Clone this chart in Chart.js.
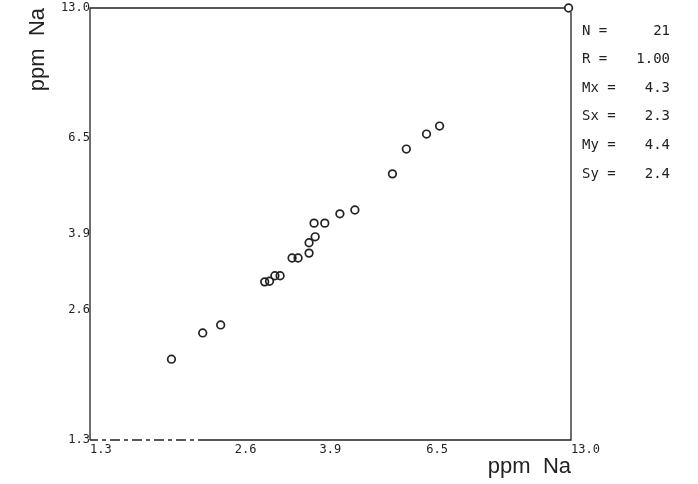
<!DOCTYPE html>
<html>
<head>
<meta charset="utf-8">
<script src="https://cdn.jsdelivr.net/npm/chart.js@4"></script>
<style>
  body { margin: 0; background: #fff; }
  #wrap { width: 698px; height: 484px; }
</style>
</head>
<body>
<div id="wrap"><canvas id="naChart"></canvas></div>
<script>
// Na values (x = one method, y = the other), ppm
const naX = [1.92, 2.23, 2.43, 3.00, 3.07, 3.15, 3.23, 3.42, 3.52, 3.71, 3.71,
             3.82, 3.80, 4.00, 4.30, 4.62, 5.53, 5.91, 6.51, 6.93, 12.85];
const naY = [2.00, 2.30, 2.40, 3.02, 3.03, 3.12, 3.12, 3.43, 3.43, 3.52, 3.72,
             3.84, 4.13, 4.13, 4.34, 4.43, 5.37, 6.13, 6.64, 6.93, 13.0];

// tick positions and their printed labels (same for both axes)
const tickValues = [1.3, 2.6, 3.9, 6.5, 13.0];
const tickLabels = ['1.3', '2.6', '3.9', '6.5', '13.0'];

// summary box on the right
const statLabels = ['N =', 'R =', 'Mx =', 'Sx =', 'My =', 'Sy ='];
const statValues = ['21', '1.00', '4.3', '2.3', '4.4', '2.4'];

const ink = '#222';
const tickFont = { family: 'DejaVu Sans Mono', size: 12 };

// draws the box round the plot (bottom edge partly dashed like the plot)
const framePlugin = {
    id: 'frame',
    beforeDatasetsDraw(chart) {
        const { ctx, chartArea: a } = chart;
        ctx.save();
        ctx.strokeStyle = ink;
        ctx.lineWidth = 1.3;
        ctx.beginPath();
        ctx.moveTo(a.left, a.bottom);
        ctx.lineTo(a.left, a.top);
        ctx.lineTo(a.right - 6, a.top);
        ctx.moveTo(a.right, a.top + 4);
        ctx.lineTo(a.right, a.bottom);
        ctx.lineTo(208, a.bottom);
        ctx.stroke();
        ctx.setLineDash([10, 4, 4, 4]);
        ctx.beginPath();
        ctx.moveTo(208, a.bottom);
        ctx.lineTo(a.left, a.bottom);
        ctx.stroke();
        ctx.restore();
    }
};

// prints N, R, means and SDs to the right of the plot
const statsPlugin = {
    id: 'stats',
    afterDraw(chart) {
        const { ctx, chartArea: a } = chart;
        ctx.save();
        ctx.fillStyle = ink;
        ctx.font = '14px "DejaVu Sans Mono"';
        ctx.textBaseline = 'middle';
        statLabels.forEach((lab, i) => {
            const y = 31 + i * 28.6;
            ctx.textAlign = 'left';
            ctx.fillText(lab, a.right + 11, y);
            ctx.textAlign = 'right';
            ctx.fillText(statValues[i], a.right + 99, y);
        });
        ctx.restore();
    }
};

function fixedTicks(axis) {
    axis.ticks = tickValues.map(v => ({ value: v }));
}

new Chart(document.getElementById('naChart'), {
    type: 'scatter',
    data: {
        datasets: [{
            label: 'Na',
            data: naX.map((x, i) => ({ x: x, y: naY[i] })),
            pointStyle: 'circle',
            pointRadius: 3.8,
            pointBorderWidth: 1.7,
            pointBorderColor: ink,
            pointBackgroundColor: 'rgba(255,255,255,0)',
            clip: false
        }]
    },
    options: {
        responsive: true,
        maintainAspectRatio: false,
        animation: false,
        layout: { padding: { left: 0, top: 8, right: 127, bottom: 0 } },
        plugins: {
            legend: { display: false },
            tooltip: { enabled: false }
        },
        scales: {
            x: {
                type: 'logarithmic',
                min: 1.3,
                max: 13.0,
                afterBuildTicks: fixedTicks,
                afterFit(axis) { axis.height = 44; },
                grid: { display: false, drawTicks: false },
                border: { display: false },
                ticks: {
                    autoSkip: false,
                    maxRotation: 0,
                    align: 'start',
                    padding: 3,
                    color: ink,
                    font: tickFont,
                    callback: (v, i) => tickLabels[i]
                },
                title: {
                    display: true,
                    text: 'ppm  Na',
                    align: 'end',
                    color: ink,
                    font: { family: 'Liberation Sans', size: 22 },
                    padding: { top: 0, bottom: 4 }
                }
            },
            y: {
                type: 'logarithmic',
                min: 1.3,
                max: 13.0,
                afterBuildTicks: fixedTicks,
                afterFit(axis) { axis.width = 90; },
                grid: { display: false, drawTicks: false },
                border: { display: false },
                ticks: {
                    autoSkip: false,
                    padding: 0,
                    color: ink,
                    font: tickFont,
                    callback: (v, i) => tickLabels[i]
                },
                title: {
                    display: true,
                    text: 'ppm  Na',
                    align: 'end',
                    color: ink,
                    font: { family: 'Liberation Sans', size: 22 },
                    padding: { top: 25, bottom: 0 }
                }
            }
        }
    },
    plugins: [framePlugin, statsPlugin]
});
</script>
</body>
</html>
